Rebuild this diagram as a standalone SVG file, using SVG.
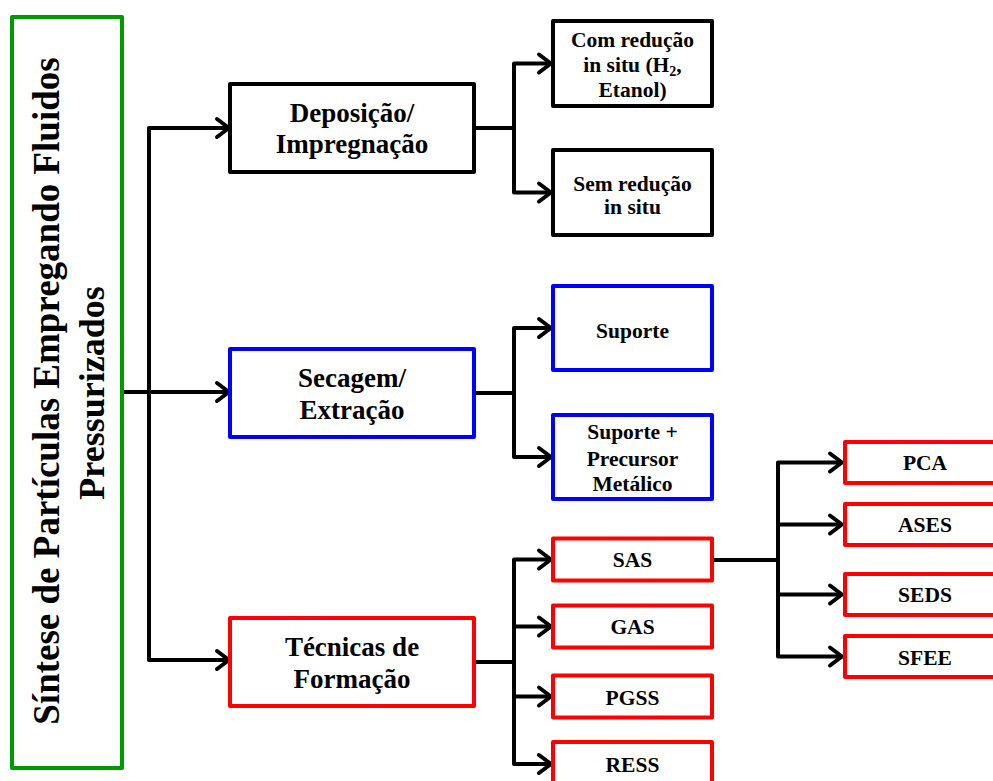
<svg xmlns="http://www.w3.org/2000/svg" width="993" height="781" viewBox="0 0 993 781">
<defs>
<style>
.box{fill:#fff;stroke-width:4;stroke-linejoin:round}
.g{stroke:#009a00}.k{stroke:#000}.b{stroke:#0000ff}.r{stroke:#ff0000}
text{font-family:"Liberation Serif","Times New Roman",serif;font-weight:bold;fill:#000;text-anchor:middle}
.t37{font-size:37px}.t36{font-size:36px}.t27{font-size:27px}.t21{font-size:21.5px}
.c{fill:none;stroke:#000;stroke-width:4;stroke-linejoin:round}
</style>
<marker id="arr" markerUnits="userSpaceOnUse" markerWidth="20" markerHeight="26" refX="16" refY="13" orient="auto" overflow="visible">
<path d="M4,4 L16,13 L4,22" fill="none" stroke="#000" stroke-width="4" stroke-linejoin="round" stroke-linecap="round"/>
</marker>
</defs>
<rect width="993" height="781" fill="#fff"/>

<g id="connectors">
<path class="c" d="M122,392 H229" marker-end="url(#arr)"/>
<path class="c" d="M149,392 V128 H229" marker-end="url(#arr)"/>
<path class="c" d="M149,392 V660 H229" marker-end="url(#arr)"/>
<path class="c" d="M474,128 H514"/>
<path class="c" d="M514,128 V63.5 H551" marker-end="url(#arr)"/>
<path class="c" d="M514,128 V192.5 H551" marker-end="url(#arr)"/>
<path class="c" d="M474,393 H514"/>
<path class="c" d="M514,393 V328 H551" marker-end="url(#arr)"/>
<path class="c" d="M514,393 V457 H551" marker-end="url(#arr)"/>
<path class="c" d="M474,662 H514"/>
<path class="c" d="M514,662 V559.5 H551" marker-end="url(#arr)"/>
<path class="c" d="M514,662 V626.5 H551" marker-end="url(#arr)"/>
<path class="c" d="M514,662 V696.5 H551" marker-end="url(#arr)"/>
<path class="c" d="M514,662 V764 H551" marker-end="url(#arr)"/>
<path class="c" d="M712,560 H778"/>
<path class="c" d="M778,560 V462.5 H842" marker-end="url(#arr)"/>
<path class="c" d="M778,560 V524.5 H842" marker-end="url(#arr)"/>
<path class="c" d="M778,560 V594.5 H842" marker-end="url(#arr)"/>
<path class="c" d="M778,560 V656.5 H842" marker-end="url(#arr)"/>
</g>

<g id="root">
<rect class="box g" x="12" y="17" width="110" height="751"/>
<text class="t37" transform="translate(59,391) rotate(-90)">Síntese de Partículas Empregando Fluidos</text>
<text class="t36" transform="translate(104,393) rotate(-90)">Pressurizados</text>
</g>

<g id="deposicao">
<rect class="box k" x="230" y="84" width="244" height="88"/>
<text class="t27" x="352" y="122">Deposição/</text>
<text class="t27" x="352" y="153">Impregnação</text>
</g>
<g id="secagem">
<rect class="box b" x="230" y="349" width="244" height="88"/>
<text class="t27" x="352" y="387">Secagem/</text>
<text class="t27" x="352" y="419">Extração</text>
</g>
<g id="tecnicas">
<rect class="box r" x="230" y="618" width="244" height="88"/>
<text class="t27" x="352" y="656">Técnicas de</text>
<text class="t27" x="352" y="688">Formação</text>
</g>

<g id="com-reducao">
<rect class="box k" x="553" y="21" width="159" height="85"/>
<text class="t21" x="632.5" y="47">Com redução</text>
<text class="t21" x="632.5" y="72">in situ (H<tspan font-size="14" dy="4">2</tspan><tspan dy="-4">,</tspan></text>
<text class="t21" x="632.5" y="97">Etanol)</text>
</g>
<g id="sem-reducao">
<rect class="box k" x="553" y="150" width="159" height="85"/>
<text class="t21" x="632.5" y="191">Sem redução</text>
<text class="t21" x="632.5" y="214">in situ</text>
</g>
<g id="suporte">
<rect class="box b" x="553" y="286" width="159" height="84"/>
<text class="t21" x="632.5" y="338">Suporte</text>
</g>
<g id="suporte-precursor">
<rect class="box b" x="553" y="415" width="159" height="84"/>
<text class="t21" x="632.5" y="439">Suporte +</text>
<text class="t21" x="632.5" y="466">Precursor</text>
<text class="t21" x="632.5" y="491">Metálico</text>
</g>
<g id="sas">
<rect class="box r" x="553" y="538.5" width="159" height="42"/>
<text class="t21" x="632.5" y="567">SAS</text>
</g>
<g id="gas">
<rect class="box r" x="553" y="605.5" width="159" height="42"/>
<text class="t21" x="632.5" y="634">GAS</text>
</g>
<g id="pgss">
<rect class="box r" x="553" y="675.5" width="159" height="42"/>
<text class="t21" x="632.5" y="705">PGSS</text>
</g>
<g id="ress">
<rect class="box r" x="553" y="742" width="159" height="50"/>
<text class="t21" x="632.5" y="772">RESS</text>
</g>
<g id="pca">
<rect class="box r" x="845" y="442" width="170" height="41"/>
<text class="t21" x="925" y="470">PCA</text>
</g>
<g id="ases">
<rect class="box r" x="845" y="504" width="170" height="41"/>
<text class="t21" x="925" y="532">ASES</text>
</g>
<g id="seds">
<rect class="box r" x="845" y="574" width="170" height="41"/>
<text class="t21" x="925" y="602">SEDS</text>
</g>
<g id="sfee">
<rect class="box r" x="845" y="636" width="170" height="41"/>
<text class="t21" x="925" y="665">SFEE</text>
</g>
</svg>
